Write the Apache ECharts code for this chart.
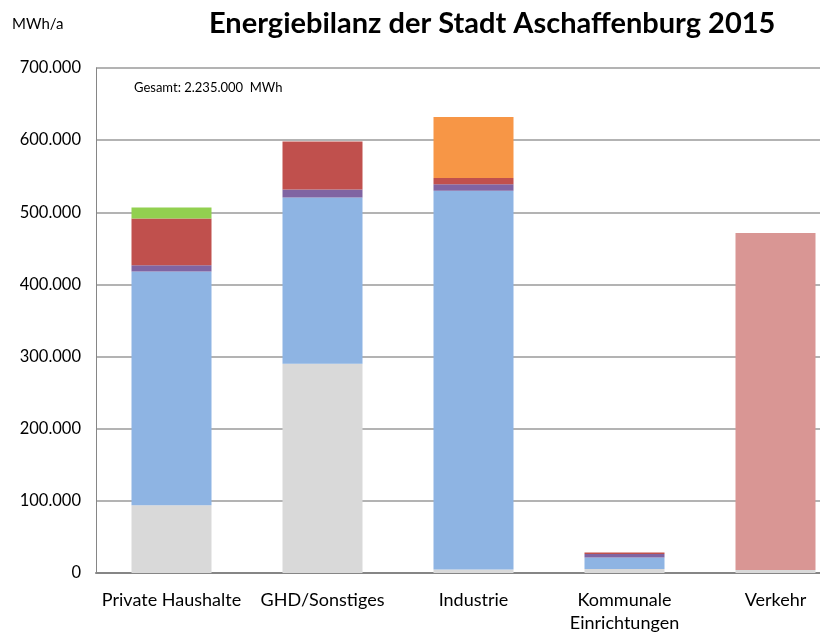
<!DOCTYPE html>
<html>
<head>
    <title>Energiebilanz der Stadt Aschaffenburg 2015</title>
    <meta charset="utf-8">
    <script type="text/javascript" src="https://cdn.jsdelivr.net/npm/echarts@6/dist/echarts.min.js"></script>
    <style>
        html, body { margin: 0; padding: 0; overflow: hidden; background: #fff; }
    </style>
</head>
<body>
<div id="chartmain" style="width:851px; height:634px;"></div>

<script type="text/javascript">
    // Sektoren (x-Achse)
    var sektoren = ['Private Haushalte', 'GHD/Sonstiges', 'Industrie', 'Kommunale\nEinrichtungen', 'Verkehr'];

    // Energieträger in MWh/a, von unten nach oben gestapelt
    var strom       = [94000, 290000, 5000, 5500, 4200];
    var erdgas      = [324000, 230500, 525000, 16000, 0];
    var fernwaerme  = [8500, 11000, 8800, 5000, 0];
    var heizoel     = [65000, 66500, 8700, 2000, 0];
    var erneuerbare = [15300, 0, 0, 0, 0];
    var sonstige    = [0, 0, 84600, 0, 0];
    var kraftstoffe = [0, 0, 0, 0, 467000];

    var yTicks = [0, 100000, 200000, 300000, 400000, 500000, 600000, 700000];

    function punkt(v) {
        return String(v).replace(/\B(?=(\d{3})+(?!\d))/g, '.');
    }

    var schrift = 'Lato, "Liberation Sans", sans-serif';

    function serie(name, data, farbe) {
        return {
            name: name,
            type: 'bar',
            stack: 'gesamt',
            barWidth: 80,
            data: data,
            itemStyle: { color: farbe },
            emphasis: { disabled: true }
        };
    }

    var option = {
        animation: false,
        textStyle: { fontFamily: schrift },
        title: {
            text: 'Energiebilanz der Stadt Aschaffenburg 2015',
            left: 204,
            top: 4,
            textStyle: { fontFamily: schrift, fontSize: 29, fontWeight: 'bold', color: '#000' }
        },
        graphic: [
            { type: 'text', left: 12, top: 17, style: { text: 'MWh/a', font: '15px ' + schrift, fill: '#000' } },
            { type: 'text', left: 134, top: 81, style: { text: 'Gesamt: 2.235.000  MWh', font: '13px ' + schrift, fill: '#000' } }
        ],
        grid: { left: 96, top: 68, width: 755, height: 505, containLabel: false, outerBoundsMode: 'none' },
        xAxis: {
            type: 'category',
            data: sektoren,
            axisLine: { lineStyle: { color: '#868686', width: 2 } },
            axisTick: { show: false },
            axisLabel: { interval: 0, color: '#000', fontSize: 18, margin: 16, lineHeight: 23, fontFamily: schrift }
        },
        yAxis: {
            type: 'value',
            min: yTicks[0],
            max: yTicks[yTicks.length - 1],
            interval: 100000,
            axisLine: { show: true, lineStyle: { color: '#868686' } },
            axisTick: { show: false },
            splitLine: { lineStyle: { color: '#9a9a9a', width: 1.5 } },
            axisLabel: {
                color: '#000', fontSize: 16.5, margin: 15, fontFamily: schrift,
                formatter: function (v) { return punkt(v); }
            }
        },
        series: [
            serie('Strom', strom, '#D9D9D9'),
            serie('Erdgas', erdgas, '#8EB4E3'),
            serie('Fernwärme', fernwaerme, '#8064A2'),
            serie('Heizöl', heizoel, '#C0504D'),
            serie('Erneuerbare', erneuerbare, '#92D050'),
            serie('Sonstige', sonstige, '#F79646'),
            serie('Kraftstoffe', kraftstoffe, '#D99694')
        ]
    };

    var myChart = echarts.init(document.getElementById('chartmain'));
    myChart.setOption(option);
</script>
</body>
</html>
